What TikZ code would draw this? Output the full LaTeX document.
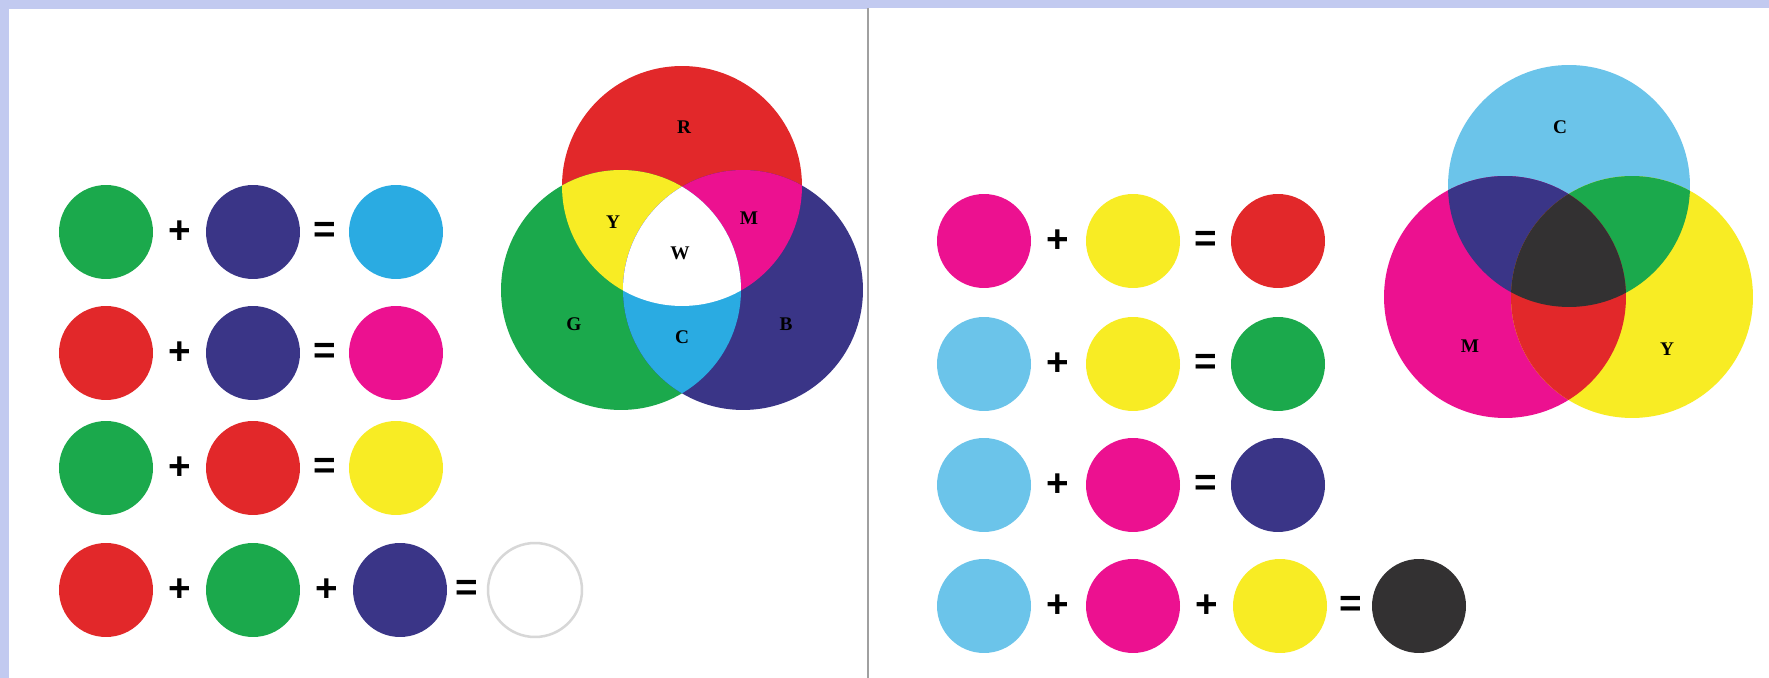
\documentclass[tikz,border=0pt]{standalone}
\usepackage{fontspec}
\setmainfont{Liberation Serif}
\newfontfamily\signfont{Liberation Sans}
\usepackage{tikz}

\definecolor{frameblue}{RGB}{194,202,240}
\definecolor{divgray}{RGB}{160,160,160}
\definecolor{ringgray}{RGB}{215,215,215}
\definecolor{rgbR}{RGB}{226,40,42}
\definecolor{rgbG}{RGB}{27,169,76}
\definecolor{rgbB}{RGB}{58,53,135}
\definecolor{rgbC}{RGB}{42,171,226}
\definecolor{rgbM}{RGB}{236,17,144}
\definecolor{rgbY}{RGB}{248,236,36}
\definecolor{cmyC}{RGB}{107,196,234}
\definecolor{cmyK}{RGB}{51,49,50}

\begin{document}
\begin{tikzpicture}[
        x=0.02cm, y=-0.02cm,
        dot/.style={circle, inner sep=0pt, minimum size=1.88cm},
        sign/.style={inner sep=0pt, font=\signfont\bfseries\fontsize{22}{22}\selectfont},
        vtag/.style={inner sep=0pt, font=\bfseries\fontsize{11}{11}\selectfont}
    ]

        \useasboundingbox (0,0) rectangle (1769,678);
        \fill[frameblue] (0,0) rectangle (1769,678);
        \fill[white] (9,9) rectangle (867,678);
        \fill[white] (869,8) rectangle (1769,678);
        \draw[divgray, line width=0.04cm] (868,8) -- (868,678);

        % additive mixing
        \node[dot, fill=rgbG] (g1) at (106,232) {};
        \node[sign]           (p1) at (180,232) {+};
        \node[dot, fill=rgbB] (b1) at (253,232) {};
        \node[sign]           (e1) at (325,232) {=};
        \node[dot, fill=rgbC] (c1) at (396,232) {};

        \node[dot, fill=rgbR] (r2) at (106,353) {};
        \node[sign]           (p2) at (180,353) {+};
        \node[dot, fill=rgbB] (b2) at (253,353) {};
        \node[sign]           (e2) at (325,353) {=};
        \node[dot, fill=rgbM] (m2) at (396,353) {};

        \node[dot, fill=rgbG] (g3) at (106,468) {};
        \node[sign]           (p3) at (180,468) {+};
        \node[dot, fill=rgbR] (r3) at (253,468) {};
        \node[sign]           (e3) at (325,468) {=};
        \node[dot, fill=rgbY] (y3) at (396,468) {};

        \node[dot, fill=rgbR] (r4)  at (106,590) {};
        \node[sign]           (p4a) at (180,590) {+};
        \node[dot, fill=rgbG] (g4)  at (253,590) {};
        \node[sign]           (p4b) at (327,590) {+};
        \node[dot, fill=rgbB] (b4)  at (400,590) {};
        \node[sign]           (e4)  at (467,590) {=};
        \node[dot, fill=white, draw=ringgray, line width=0.05cm] (w4) at (535,590) {};

        \coordinate (vR) at (682,186);
        \coordinate (vG) at (621,290);
        \coordinate (vB) at (743,290);
        \fill[rgbR] (vR) circle (2.4cm);
        \fill[rgbG] (vG) circle (2.4cm);
        \fill[rgbB] (vB) circle (2.4cm);
        \begin{scope}
            \clip (vR) circle (2.4cm);
            \fill[rgbY] (vG) circle (2.4cm);
            \fill[rgbM] (vB) circle (2.4cm);
        \end{scope}
        \begin{scope}
            \clip (vG) circle (2.4cm);
            \fill[rgbC] (vB) circle (2.4cm);
        \end{scope}
        \begin{scope}
            \clip (vR) circle (2.4cm);
            \clip (vG) circle (2.4cm);
            \fill[white] (vB) circle (2.4cm);
        \end{scope}
        \node[vtag] (tR) at (684,127) {R};
        \node[vtag] (tY) at (613,222) {Y};
        \node[vtag] (tM) at (749,218) {M};
        \node[vtag] (tW) at (680,253) {W};
        \node[vtag] (tG) at (574,324) {G};
        \node[vtag] (tC) at (682,337) {C};
        \node[vtag] (tB) at (786,324) {B};

        % subtractive mixing
        \node[dot, fill=rgbM] (sm1) at (984,241) {};
        \node[sign]           (sp1) at (1058,241) {+};
        \node[dot, fill=rgbY] (sy1) at (1133,241) {};
        \node[sign]           (se1) at (1206,241) {=};
        \node[dot, fill=rgbR] (sr1) at (1278,241) {};

        \node[dot, fill=cmyC] (sc2) at (984,364) {};
        \node[sign]           (sp2) at (1058,364) {+};
        \node[dot, fill=rgbY] (sy2) at (1133,364) {};
        \node[sign]           (se2) at (1206,364) {=};
        \node[dot, fill=rgbG] (sg2) at (1278,364) {};

        \node[dot, fill=cmyC] (sc3) at (984,485) {};
        \node[sign]           (sp3) at (1058,485) {+};
        \node[dot, fill=rgbM] (sm3) at (1133,485) {};
        \node[sign]           (se3) at (1206,485) {=};
        \node[dot, fill=rgbB] (sb3) at (1278,485) {};

        \node[dot, fill=cmyC] (sc4)  at (984,606) {};
        \node[sign]           (sp4a) at (1058,606) {+};
        \node[dot, fill=rgbM] (sm4)  at (1133,606) {};
        \node[sign]           (sp4b) at (1207,606) {+};
        \node[dot, fill=rgbY] (sy4)  at (1280,606) {};
        \node[sign]           (se4)  at (1351,606) {=};
        \node[dot, fill=cmyK] (sk4)  at (1419,606) {};

        \coordinate (vC) at (1569,186);
        \coordinate (vM) at (1505,297);
        \coordinate (vY) at (1632,297);
        \fill[cmyC] (vC) circle (2.42cm);
        \fill[rgbM] (vM) circle (2.42cm);
        \fill[rgbY] (vY) circle (2.42cm);
        \begin{scope}
            \clip (vC) circle (2.42cm);
            \fill[rgbB] (vM) circle (2.42cm);
            \fill[rgbG] (vY) circle (2.42cm);
        \end{scope}
        \begin{scope}
            \clip (vM) circle (2.42cm);
            \fill[rgbR] (vY) circle (2.42cm);
        \end{scope}
        \begin{scope}
            \clip (vC) circle (2.42cm);
            \clip (vM) circle (2.42cm);
            \fill[cmyK] (vY) circle (2.42cm);
        \end{scope}
        \node[vtag] (tC2) at (1560,127) {C};
        \node[vtag] (tM2) at (1470,346) {M};
        \node[vtag] (tY2) at (1667,349) {Y};
    \end{tikzpicture}
\end{document}
